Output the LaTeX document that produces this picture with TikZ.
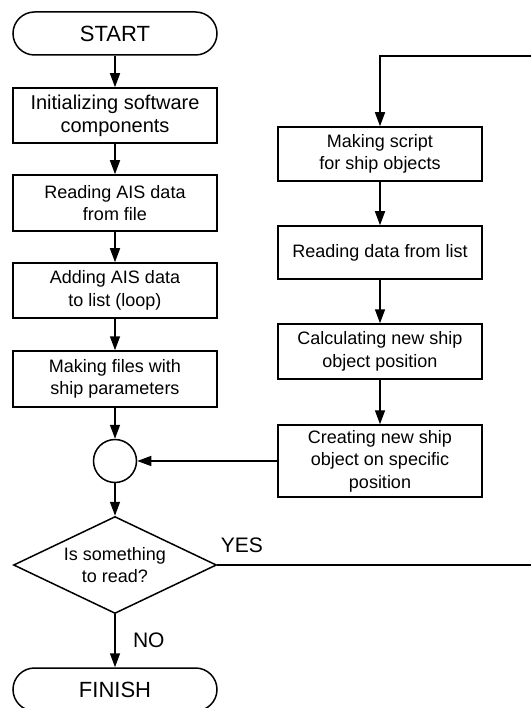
\documentclass[tikz,border=0pt]{standalone}
\usepackage{fontspec}
\setmainfont{Liberation Sans}
\usetikzlibrary{arrows.meta,shapes.geometric}

\tikzset{
  >={Triangle[length=14pt,width=10pt]},
  flow/.style={line width=1.5pt},
  stepbox/.style={draw,line width=1.5pt,minimum width=204pt,minimum height=55pt,
    align=center,inner sep=2pt,font=\fontsize{18pt}{22.5pt}\selectfont},
  term/.style={draw,line width=1.5pt,minimum width=204pt,minimum height=43pt,
    rounded corners=21.5pt,font=\fontsize{22pt}{26pt}\selectfont},
  joint/.style={draw,circle,line width=1.5pt,minimum size=43pt,inner sep=0pt},
  ask/.style={draw,diamond,aspect=2.09,line width=1.5pt,minimum width=203pt,minimum height=97pt,
    inner sep=0pt,align=center,font=\fontsize{18pt}{22.5pt}\selectfont},
  tag/.style={font=\fontsize{21pt}{24pt}\selectfont}
}

\begin{document}
\begin{tikzpicture}[x=1pt,y=-1pt]
\useasboundingbox (0,0) rectangle (531,708);
\node (start) [term] at (115,33.5) {START};
\node (init) [stepbox,font=\fontsize{20pt}{23pt}\selectfont] at (115,115.5) {Initializing software\\components};
\node (read) [stepbox,minimum height=56pt] at (115,203) {Reading AIS data\\from file};
\node (add) [stepbox] at (115,290.5) {Adding AIS data\\to list (loop)};
\node (files) [stepbox,minimum height=56pt] at (115,379) {Making files with\\ship parameters};
\node (join) [joint] at (115,461) {};
\node (query) [ask] at (115,565) {Is something\\to read?};
\node (finish) [term] at (115,689.5) {FINISH};

\node (script) [stepbox,minimum height=54pt] at (380,154) {Making script\\for ship objects};
\node (list) [stepbox,minimum height=53pt] at (380,252.5) {Reading data from list};
\node (calc) [stepbox] at (380,351.5) {Calculating new ship\\object position};
\node (create) [stepbox,minimum height=72pt] at (380,461) {Creating new ship\\object on specific\\position};

\coordinate (yesend) at (531,565);
\coordinate (topend) at (531,56);

\draw[flow,->] (start) -- (init);
\draw[flow,->] (init) -- (read);
\draw[flow,->] (read) -- (add);
\draw[flow,->] (add) -- (files);
\draw[flow,->] (files) -- (join);
\draw[flow,->] (join) -- (query);
\draw[flow,->] (query) -- node (no) [right,tag,xshift=14pt] {NO} (finish);
\draw[flow] (query.east) -- (yesend);
\node (yes) [tag,above right,yshift=9pt] at (query.east) {YES};
\draw[flow,->] (topend) -| (script);
\draw[flow,->] (script) -- (list);
\draw[flow,->] (list) -- (calc);
\draw[flow,->] (calc) -- (create);
\draw[flow,->] (create) -- (join);
\end{tikzpicture}
\end{document}
